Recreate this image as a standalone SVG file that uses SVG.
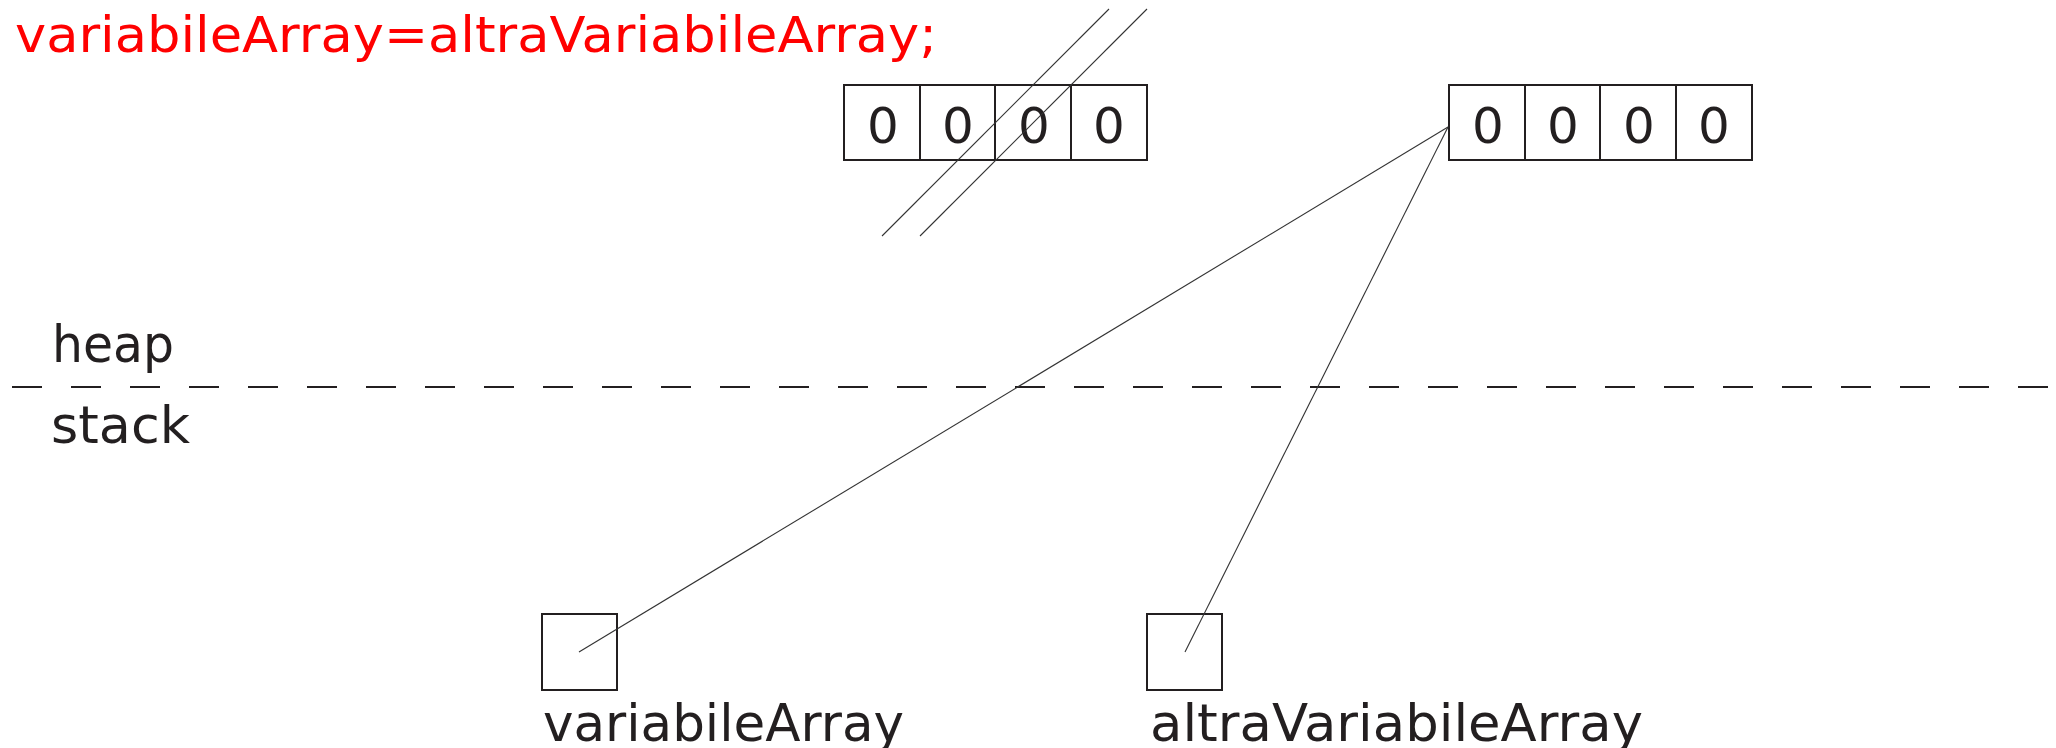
<svg xmlns="http://www.w3.org/2000/svg" width="2056" height="748" viewBox="0 0 2056 748">
  <style>
    .cell { fill: none; stroke: #231f20; stroke-width: 2; }
    .lbl { font-family: "DejaVu Sans", "Liberation Sans", sans-serif; fill: #231f20; font-size: 51px; }
    .num { font-family: "DejaVu Sans", "Liberation Sans", sans-serif; fill: #231f20; font-size: 50px; text-anchor: middle; }
    .code { font-family: "DejaVu Sans", "Liberation Sans", sans-serif; fill: #ff0000; font-size: 50px; }
    .ptr { stroke: #333; stroke-width: 1.1; fill: none; }
    .sep { stroke: #231f20; stroke-width: 2; stroke-dasharray: 30 29; }
  </style>

  <!-- assignment statement -->
  <text class="code" x="15" y="52" textLength="922" lengthAdjust="spacingAndGlyphs">variabileArray=altraVariabileArray;</text>

  <!-- heap / stack boundary -->
  <g id="boundary">
    <line class="sep" x1="12" y1="387" x2="2056" y2="387"/>
    <text class="lbl" x="52" y="362" textLength="122" lengthAdjust="spacingAndGlyphs">heap</text>
    <text class="lbl" x="51" y="443" textLength="139" lengthAdjust="spacingAndGlyphs">stack</text>
  </g>

  <!-- original array, now unreachable -->
  <g id="oldArray">
    <rect class="cell" x="844" y="85" width="76" height="75"/>
    <rect class="cell" x="920" y="85" width="75" height="75"/>
    <rect class="cell" x="995" y="85" width="76" height="75"/>
    <rect class="cell" x="1071" y="85" width="76" height="75"/>
    <text class="num" x="883" y="143">0</text>
    <text class="num" x="958" y="143">0</text>
    <text class="num" x="1034" y="143">0</text>
    <text class="num" x="1109" y="143">0</text>
  </g>

  <!-- shared array -->
  <g id="newArray">
    <rect class="cell" x="1449" y="85" width="76" height="75"/>
    <rect class="cell" x="1525" y="85" width="75" height="75"/>
    <rect class="cell" x="1600" y="85" width="76" height="75"/>
    <rect class="cell" x="1676" y="85" width="76" height="75"/>
    <text class="num" x="1488" y="143">0</text>
    <text class="num" x="1563" y="143">0</text>
    <text class="num" x="1639" y="143">0</text>
    <text class="num" x="1714" y="143">0</text>
  </g>

  <!-- stack variables -->
  <g id="varA">
    <rect class="cell" x="542" y="614" width="75" height="76"/>
    <text class="lbl" x="543" y="741" textLength="361" lengthAdjust="spacingAndGlyphs">variabileArray</text>
  </g>
  <g id="varB">
    <rect class="cell" x="1147" y="614" width="75" height="76"/>
    <text class="lbl" x="1150" y="741" textLength="493" lengthAdjust="spacingAndGlyphs">altraVariabileArray</text>
  </g>

  <!-- references and strike-through -->
  <g id="connectors">
    <line class="ptr" x1="579" y1="652" x2="1448" y2="127"/>
    <line class="ptr" x1="1185" y1="652" x2="1448" y2="127"/>
    <line class="ptr" x1="882" y1="236" x2="1109" y2="9"/>
    <line class="ptr" x1="920" y1="236" x2="1147" y2="9"/>
  </g>
</svg>
